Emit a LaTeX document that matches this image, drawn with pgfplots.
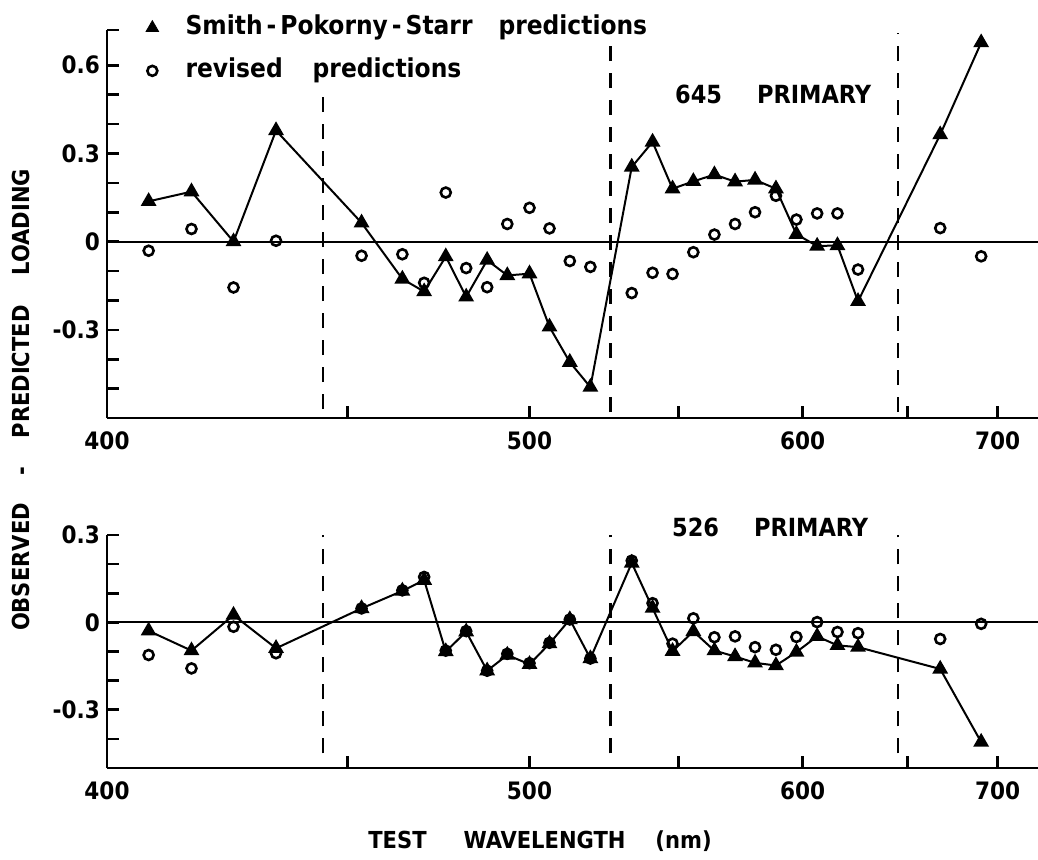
\documentclass[border=0pt]{standalone}
\usepackage{fontspec}
\setmainfont{DejaVu Sans Condensed}
\usepackage{pgfplots}
\usepackage{pgfplotstable}
\pgfplotsset{compat=1.18}

\pgfplotstableread{
lam   sps    rev
405.7  0.137 -0.031
414.5  0.170  0.043
423.5  0.000 -0.156
433.0  0.378  0.003
453.5  0.064 -0.048
464.0 -0.127 -0.043
469.8 -0.170 -0.140
475.7 -0.051  0.167
481.4 -0.188 -0.090
487.4 -0.063 -0.155
493.3 -0.115  0.060
500.0 -0.109  0.115
506.2 -0.290  0.045
512.6 -0.410 -0.066
519.3 -0.495 -0.086
533.3  0.254 -0.175
540.6  0.339 -0.106
547.8  0.180 -0.110
555.6  0.205 -0.036
563.6  0.228  0.024
571.7  0.204  0.060
579.8  0.210  0.100
588.5  0.180  0.156
597.3  0.025  0.075
606.5 -0.015  0.096
615.7 -0.013  0.096
625.4 -0.203 -0.095
667.2  0.364  0.046
690.3  0.677 -0.050
}\toptab

\pgfplotstableread{
lam   sps    rev
405.7 -0.029 -0.112
414.5 -0.097 -0.158
423.5  0.025 -0.015
433.0 -0.089 -0.106
453.5  0.048  0.048
464.0  0.108  0.110
469.8  0.145  0.156
475.7 -0.100 -0.097
481.4 -0.032 -0.030
487.4 -0.166 -0.166
493.3 -0.112 -0.108
500.0 -0.144 -0.140
506.2 -0.073 -0.070
512.6  0.010  0.010
519.3 -0.124 -0.124
533.3  0.204  0.212
540.6  0.049  0.066
547.8 -0.099 -0.073
555.6 -0.031  0.014
563.6 -0.097 -0.051
571.7 -0.117 -0.048
579.8 -0.139 -0.085
588.5 -0.148 -0.094
597.3 -0.102 -0.050
606.5 -0.048  0.001
615.7 -0.079 -0.033
625.4 -0.085 -0.037
667.2 -0.160 -0.057
690.3 -0.411 -0.005
}\bottab

\pgfplotsset{
  panel/.style={
    scale only axis,
    width=465.5pt,
    axis x line=bottom,
    axis y line=left,
    axis line style={line width=1.4pt,-},
    x coord trafo/.code={\pgfmathparse{-10000/##1}},
    xmin=397.5, xmax=725,
    xtick={450,500,550,600,650,700},
    xticklabels={,500,,600,,700},
    extra x ticks={397.5},
    extra x tick labels={400},
    extra x tick style={major tick length=0pt},
    tick align=inside,
    major tick length=6pt,
    minor tick length=6pt,
    tick style={line width=1.3pt,black},
    xticklabel style={font=\bfseries\fontsize{12}{14}\selectfont, yshift=-3.5pt},
    yticklabel style={font=\bfseries\fontsize{12}{14}\selectfont},
    clip=false,
  },
  sps/.style={line width=1pt, black, mark=triangle*, mark size=3.6pt, mark options={solid}},
  rev/.style={only marks, black, mark=o, mark size=2.5pt, mark options={line width=1.3pt}},
  dash/.style={line width=1.3pt, black, dash pattern=on 7.5pt off 6pt},
}

\begin{document}
\begin{tikzpicture}[x=1pt,y=1pt]
\path[use as bounding box] (0,0) rectangle (519,-430);

% top panel
\begin{axis}[panel,
  at={(53.5pt,-209pt)}, anchor=south west,
  height=194pt,
  ymin=-0.6, ymax=0.72,
  ytick={-0.3,0,0.3,0.6},
  yticklabels={-0.3,0\hspace{3pt},0.3,0.6},
  minor ytick={-0.6,-0.5,-0.4,-0.2,-0.1,0.1,0.2,0.4,0.5,0.72},
  legend style={draw=none, fill=none, inner sep=0pt, outer sep=0pt,
    at={(0.042,1.039)}, anchor=north west,
    font=\bfseries\fontsize{13}{15}\selectfont, row sep=8.5pt, column sep=13.5pt,
    nodes={inner sep=0pt, text height=10pt, text depth=3pt}},
  legend cell align=left,
]
\addlegendimage{only marks, black, mark=triangle*, mark size=3.6pt}
\addlegendentry{Smith\hspace{2pt}-\hspace{2pt}Pokorny\hspace{2pt}-\hspace{2pt}Starr\hspace{13pt}predictions}
\addlegendimage{only marks, black, mark=o, mark size=2.5pt, mark options={line width=1.3pt}}
\addlegendentry{revised\hspace{15pt}predictions}
\addplot[line width=1pt, black, forget plot] coordinates {(397.5,0) (725,0)};
\addplot[dash, forget plot] coordinates {(444,-0.57) (444,0.50)};
\addplot[dash, forget plot] coordinates {(526,-0.58) (526,0.71)};
\addplot[dash, forget plot] coordinates {(645,-0.58) (645,0.71)};
\addplot[sps, forget plot] table[x=lam, y=sps] {\toptab};
\addplot[rev, forget plot] table[x=lam, y=rev] {\toptab};
\node[font=\bfseries\fontsize{12.5}{15}\selectfont, xshift=4pt, yshift=-1.5pt] at (axis cs:584,0.51) {645\hspace{17.5pt}PRIMARY};
\end{axis}

% bottom panel
\begin{axis}[panel,
  at={(53.5pt,-384pt)}, anchor=south west,
  height=116.5pt,
  ymin=-0.5, ymax=0.3,
  ytick={-0.3,0,0.3},
  yticklabels={-0.3,0\hspace{3pt},0.3},
  minor ytick={-0.5,-0.4,-0.2,-0.1,0.1,0.2},
]
\addplot[line width=1pt, black] coordinates {(397.5,0) (725,0)};
\addplot[dash] coordinates {(444,-0.45) (444,0.3)};
\addplot[dash] coordinates {(526,-0.45) (526,0.3)};
\addplot[dash] coordinates {(645,-0.45) (645,0.3)};
\addplot[sps] table[x=lam, y=sps] {\bottab};
\addplot[rev] table[x=lam, y=rev] {\bottab};
\node[font=\bfseries\fontsize{12.5}{15}\selectfont, xshift=2.5pt] at (axis cs:584,0.326) {526\hspace{17.5pt}PRIMARY};
\end{axis}

\node[rotate=90, font=\bfseries\fontsize{11.7}{14}\selectfont] at (10.5pt,-200pt) {OBSERVED\hspace{14pt}-\hspace{14pt}PREDICTED\hspace{15pt}LOADING};
\node[font=\bfseries\fontsize{11.7}{14}\selectfont] at (270pt,-420.5pt) {TEST\hspace{18.5pt}WAVELENGTH\hspace{15pt}(nm)};
\end{tikzpicture}
\end{document}
